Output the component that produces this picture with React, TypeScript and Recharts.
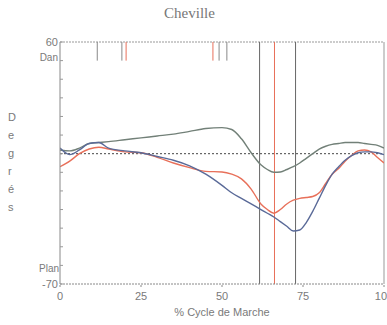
import {
  LineChart,
  XAxis,
  YAxis,
  Line,
  ReferenceLine,
  Label,
} from "recharts";

// % of gait cycle
const cycle = [
  0, 3, 6, 9, 12, 15, 20, 25, 30, 35, 40, 45, 50, 53, 56, 59, 62, 64, 66, 68,
  70, 72, 74, 76, 78, 80, 82, 84, 86, 88, 90, 92, 94, 96, 98, 100,
];

// ankle angle (degrees)
const normValues = [
  2, 1.5, 3, 5.5, 6, 6.5, 7.5, 8.5, 9.5, 10.5, 12, 13.5, 14, 13, 8, 0.5, -6,
  -8.5, -10, -9.8, -8.5, -7, -5, -2.5, 0, 2.5, 4, 5, 5.5, 6, 6, 6, 5.5, 5, 4.5,
  3,
];
const rightValues = [
  -7, -4, 0, 2.5, 3.5, 2.5, 1, 0.5, -2, -5, -7.5, -9.5, -9.8, -11, -13.5, -19,
  -27, -30, -32, -30, -27, -25, -24, -23.5, -23, -21, -16, -11, -8, -4, -1, 1.5,
  2, 1, -2, -5,
];
const leftValues = [
  3, -0.5, 2, 5.5, 6, 3, 1.5, 0.5, -1.5, -3.5, -6.5, -11, -17, -21, -24, -27,
  -30, -32, -34, -36.5, -39, -41.5, -41, -37, -31, -24, -17, -11, -7, -3.5, -1,
  0.5, 1, 1, 0.5, -0.5,
];

const xTicks = [0, 25, 50, 75, 100];
const yTicks = [-70, -60, -50, -40, -30, -20, -10, 0, 10, 20, 30, 40, 50, 60];

// gait events
const grayEvents = [61.6, 72.7];
const redEvents = [66.2];
const grayMarks = [11.5, 19.1, 49.1, 51.5];
const redMarks = [20.4, 47.2];

const yLetters = ["D", "e", "g", "r", "é", "s"];

const data = cycle.map((c, i) => ({
  cycle: c,
  norm: normValues[i],
  right: rightValues[i],
  left: leftValues[i],
}));

const font = "'Liberation Sans', Arial, sans-serif";
const textColor = "#7a7a7a";

const YTick = (props: any) => {
  const { x, y, payload } = props;
  const v = payload.value;
  return (
    <g>
      <line x1={x} x2={x + 3} y1={y} y2={y} stroke="#999" />
      {v === 60 && (
        <>
          <text x={x - 2} y={y + 4} textAnchor="end" fontSize={11} fill={textColor} fontFamily={font}>
            60
          </text>
          <text x={x - 2} y={y + 19} textAnchor="end" fontSize={10} fill={textColor} fontFamily={font}>
            Dan
          </text>
        </>
      )}
      {v === -70 && (
        <>
          <text x={x - 1} y={y - 12} textAnchor="end" fontSize={10} fill={textColor} fontFamily={font}>
            Plan
          </text>
          <text x={x - 2} y={y + 4} textAnchor="end" fontSize={11} fill={textColor} fontFamily={font}>
            -70
          </text>
        </>
      )}
    </g>
  );
};

const App = () => {
  return (
    <div style={{ position: "absolute", left: 0, top: 0, width: 387, height: 325, background: "#fff" }}>
      <div
        style={{
          position: "absolute",
          left: -4,
          width: 387,
          top: 5,
          textAlign: "center",
          fontFamily: "'Liberation Serif', serif",
          fontSize: 15,
          color: "#777",
        }}
      >
        Cheville
      </div>
      {yLetters.map((l, i) => (
        <div
          key={i}
          style={{
            position: "absolute",
            left: 8,
            top: 111 + i * 18,
            fontFamily: font,
            fontSize: 11,
            color: textColor,
          }}
        >
          {l}
        </div>
      ))}
      <LineChart
        width={387}
        height={325}
        data={data}
        margin={{ top: 42, right: 3, left: 0, bottom: 0 }}
      >
        <XAxis
          dataKey="cycle"
          type="number"
          domain={[0, 100]}
          ticks={xTicks}
          interval={0}
          allowDataOverflow
          stroke="#888"
          strokeDasharray="2 1"
          tickSize={3}
          tickMargin={5}
          tick={{ fontSize: 11, fill: textColor, fontFamily: font }}
          height={41}
        >
          <Label
            value="% Cycle de Marche"
            position="insideBottom"
            offset={9}
            style={{ fontSize: 11, fill: textColor, fontFamily: font }}
          />
        </XAxis>
        <YAxis
          type="number"
          domain={[-70, 60]}
          ticks={yTicks}
          interval={0}
          allowDataOverflow
          width={60}
          stroke="#888"
          tickSize={0}
          tickMargin={0}
          tick={<YTick />}
        />
        <ReferenceLine y={60} stroke="#999" strokeDasharray="2 1" />
        <ReferenceLine x={100} stroke="#999" />
        <ReferenceLine y={0} stroke="#444" strokeDasharray="2 2" />
        {grayEvents.map((x) => (
          <ReferenceLine key={"g" + x} x={x} stroke="#666" />
        ))}
        {redEvents.map((x) => (
          <ReferenceLine key={"r" + x} x={x} stroke="#e8705a" />
        ))}
        {grayMarks.map((x) => (
          <ReferenceLine
            key={"gm" + x}
            segment={[
              { x, y: 60 },
              { x, y: 50 },
            ]}
            stroke="#888"
          />
        ))}
        {redMarks.map((x) => (
          <ReferenceLine
            key={"rm" + x}
            segment={[
              { x, y: 60 },
              { x, y: 50 },
            ]}
            stroke="#e8705a"
          />
        ))}
        <Line
          type="monotone"
          dataKey="norm"
          stroke="#728078"
          strokeWidth={1.4}
          dot={false}
          isAnimationActive={false}
        />
        <Line
          type="monotone"
          dataKey="right"
          stroke="#e8705a"
          strokeWidth={1.4}
          dot={false}
          isAnimationActive={false}
        />
        <Line
          type="monotone"
          dataKey="left"
          stroke="#5a6a98"
          strokeWidth={1.4}
          dot={false}
          isAnimationActive={false}
        />
      </LineChart>
    </div>
  );
};

export default App;
